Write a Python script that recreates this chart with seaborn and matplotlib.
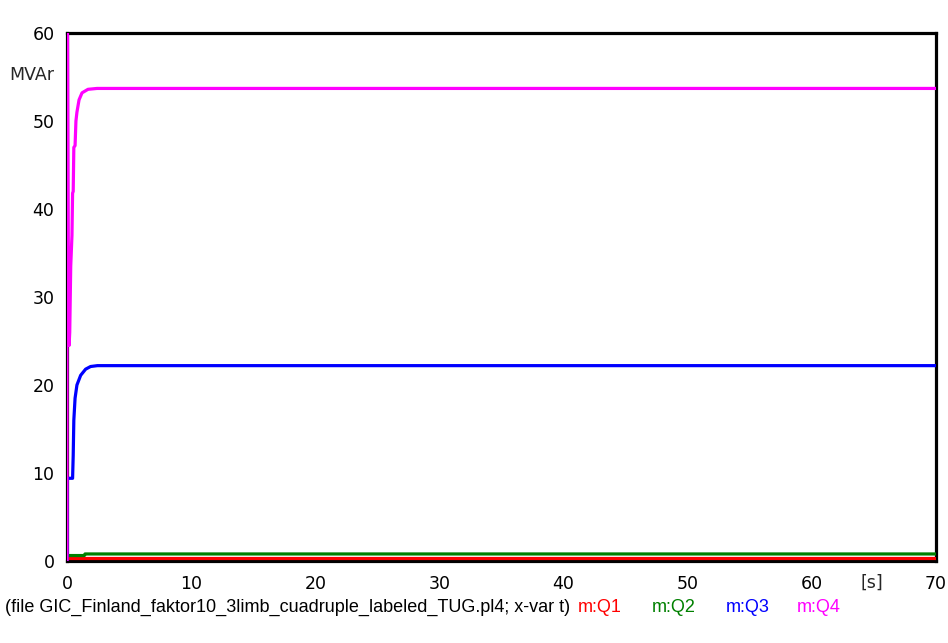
import matplotlib
matplotlib.use("Agg")
import matplotlib.pyplot as plt
import seaborn as sns
import pandas as pd

# Reactive power traces (MVAr) against simulation time (s)
q1_t = [0.0, 70.0]
q1_v = [0.35, 0.35]

q2_t = [0.0, 1.40, 1.45, 70.0]
q2_v = [0.62, 0.62, 0.80, 0.80]

q3_t = [0.0, 0.0, 0.45, 0.50, 0.55, 0.65, 0.80, 1.10, 1.50, 1.90, 2.45, 70.0]
q3_v = [0.0, 9.4, 9.4, 12.0, 16.0, 18.5, 20.0, 21.1, 21.8, 22.1, 22.2, 22.2]

q4_t = [0.0, 0.0, 0.04, 0.12, 0.17, 0.22, 0.30, 0.40, 0.45, 0.50, 0.55,
        0.65, 0.72, 0.80, 0.97, 1.21, 1.69, 2.42, 70.0]
q4_v = [0.0, 60.0, 60.0, 30.0, 24.5, 26.0, 33.5, 37.0, 41.8, 42.0, 47.0,
        47.2, 50.0, 51.0, 52.4, 53.2, 53.6, 53.7, 53.7]

series_names = ["m:Q1", "m:Q2", "m:Q3", "m:Q4"]
series_colors = ["#ff0000", "#008000", "#0000ff", "#ff00ff"]

x_ticks = [0, 10, 20, 30, 40, 50, 60, 70]
y_ticks = [0, 10, 20, 30, 40, 50, 60]

frames = []
for name, t, v in zip(series_names, [q1_t, q2_t, q3_t, q4_t], [q1_v, q2_v, q3_v, q4_v]):
    frames.append(pd.DataFrame({"t": t, "v": v, "series": name}))
df = pd.concat(frames, ignore_index=True)

sns.set_style("white")
plt.rcParams["font.family"] = ["DejaVu Sans"]

W, H = 948, 643
fig = plt.figure(figsize=(W / 100, H / 100), dpi=100)
ax = fig.add_axes([67 / W, 1 - 561 / H, (936 - 67) / W, (561 - 33) / H])

sns.lineplot(data=df, x="t", y="v", hue="series", hue_order=series_names,
             palette=dict(zip(series_names, series_colors)),
             estimator=None, sort=False, linewidth=2.3, legend=False, ax=ax,
             zorder=3)

ax.set_xlim(0, 70)
ax.set_ylim(0, 60)
ax.set_xticks(x_ticks)
ax.set_yticks(y_ticks)
ax.set_xticklabels([str(v) for v in x_ticks])
ax.set_yticklabels([str(v) for v in y_ticks])
ax.set_xlabel("")
ax.set_ylabel("")
for s in ax.spines.values():
    s.set_visible(True)
    s.set_color("black")
    s.set_linewidth(2.3)
ax.tick_params(axis="both", direction="out", length=6, width=2.2, color="black",
               labelsize=12.5, labelcolor="black")
ax.tick_params(axis="y", pad=3)
ax.tick_params(axis="x", pad=4)
ax.grid(False)

# axis unit labels
fig.text(9 / W, 1 - 75 / H, "MVAr", fontsize=12.5, ha="left", va="center")
fig.text(872 / W, 1 - 583 / H, "[s]", fontsize=12.5, ha="center", va="center")

# footer with source file and series legend
fy = 1 - 607 / H
foot_font = ["Liberation Sans", "DejaVu Sans"]
fig.text(5 / W, fy, "(file GIC_Finland_faktor10_3limb_cuadruple_labeled_TUG.pl4; x-var t)",
         fontsize=13, ha="left", va="center", color="black", family=foot_font)
for name, color, xp in zip(series_names, series_colors, [578, 652, 726, 797]):
    fig.text(xp / W, fy, name, fontsize=13, ha="left", va="center", color=color,
             family=foot_font)

fig.savefig("out.png", dpi=100)
